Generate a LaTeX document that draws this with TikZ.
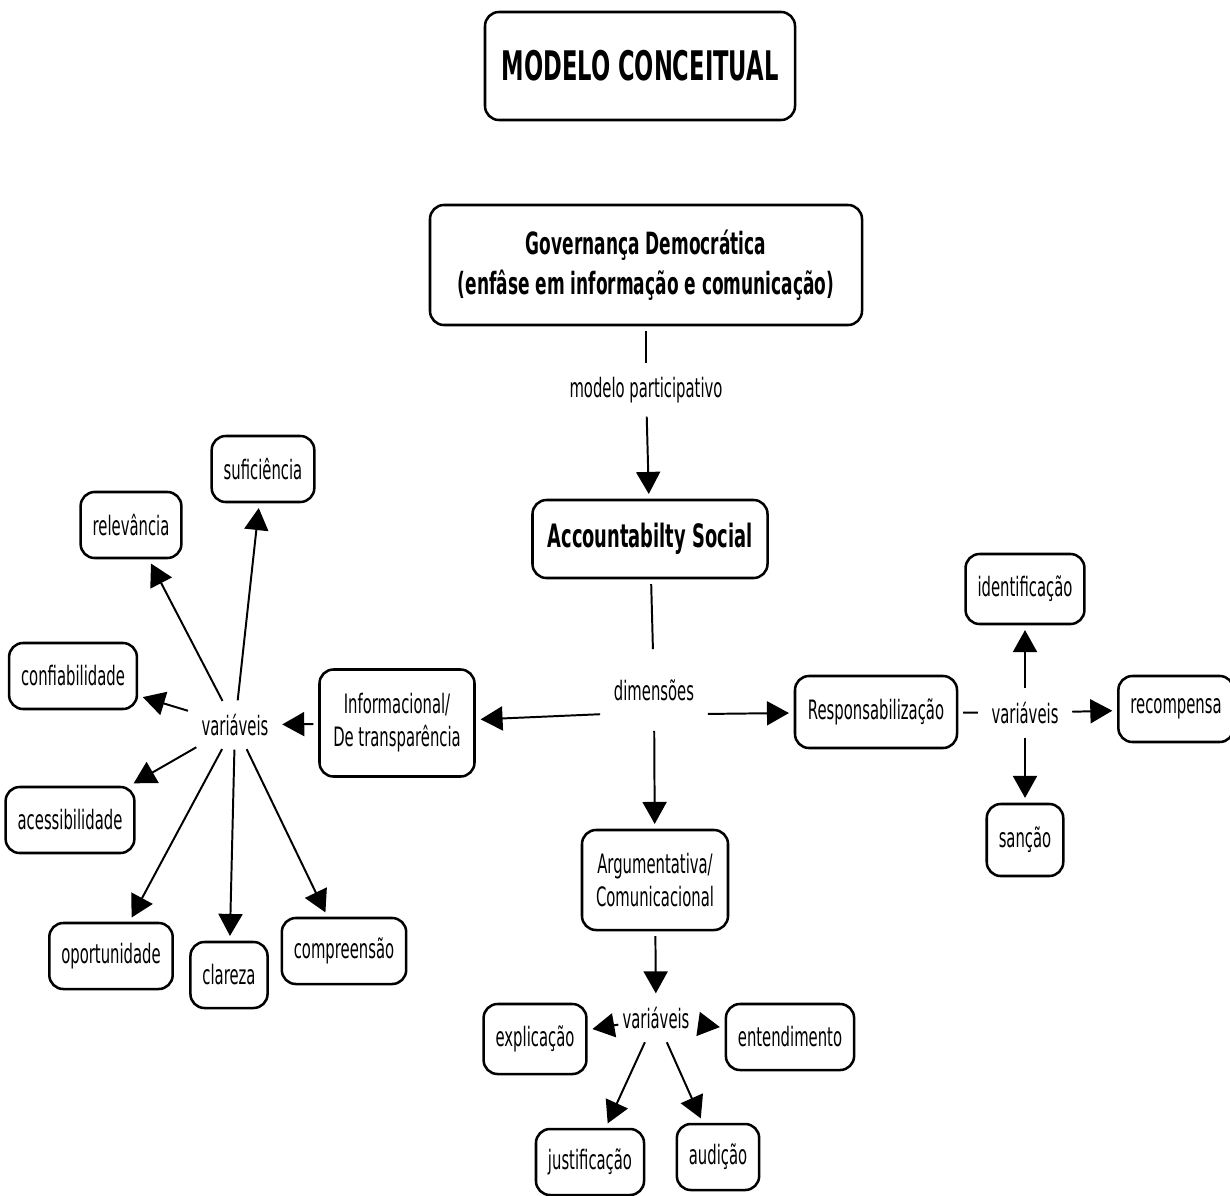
\documentclass[tikz,border=0pt]{standalone}
\usepackage{fontspec}
\setmainfont{DejaVu Sans}[FakeStretch=0.555]
\usepackage{tikz}
\usetikzlibrary{arrows.meta,positioning}

\newcommand{\normaltam}{\fontsize{19}{23.5}\selectfont}
\newcommand{\govtam}{\bfseries\fontsize{21.8}{28.5}\selectfont}
\newcommand{\acctam}{\bfseries\fontsize{22.9}{26}\selectfont}
\newcommand{\titulotam}{\bfseries\fontsize{29}{32}\selectfont}

\tikzset{
  conceito/.style={draw, rounded corners=3.5mm, line width=1.8pt, align=center,
    font=\normaltam, inner xsep=3mm, minimum height=16.5mm},
  rotulo/.style={font=\normaltam, inner sep=2mm},
}

\begin{document}
\begin{tikzpicture}[x=0.25mm, y=-0.25mm, ->, >={Triangle[length=5.5mm,width=6mm]},
    line width=1.4pt, shorten >=1.2mm, shorten <=1.2mm]

  \useasboundingbox (0,0) rectangle (1230,1195);

  % topo
  \node[conceito, font=\titulotam, minimum width=77.5mm, minimum height=27mm] (titulo) at (640,66) {MODELO CONCEITUAL};
  \node[conceito, font=\govtam, minimum width=108mm, minimum height=30mm] (gov) at (646,265)
    {Governança Democrática\\(enfâse em informação e comunicação)};
  \node[rotulo, minimum height=10mm] (part) at (646,390) {modelo participativo};
  \node[conceito, font=\acctam, minimum width=58.75mm, minimum height=19.5mm] (acc) at (650,539) {Accountabilty Social};
  \node[rotulo, minimum width=21mm, minimum height=17.5mm] (dim) at (654,690) {dimensões};

  % dimensoes
  \node[conceito, minimum width=38.75mm, minimum height=26.75mm] (info) at (397,723) {Informacional/\\De transparência};
  \node[conceito, minimum width=40.5mm, minimum height=18mm] (resp) at (876,712) {Responsabilização};
  \node[conceito, minimum width=36.5mm, minimum height=25mm] (arg) at (655,880) {Argumentativa/\\Comunicacional};

  % variaveis informacional
  \node[rotulo] (varI) at (235,725) {variáveis};
  \node[conceito] (suf) at (263,469) {suficiência};
  \node[conceito] (rel) at (131,525) {relevância};
  \node[conceito] (conf) at (73,676) {confiabilidade};
  \node[conceito] (aces) at (70,820) {acessibilidade};
  \node[conceito] (oport) at (111,956) {oportunidade};
  \node[conceito] (clar) at (229,975) {clareza};
  \node[conceito] (comp) at (344,951) {compreensão};

  % variaveis responsabilizacao
  \node[rotulo] (varR) at (1025,713) {variáveis};
  \node[conceito, minimum height=17.5mm] (ident) at (1025,589) {identificação};
  \node[conceito] (recomp) at (1176,709) {recompensa};
  \node[conceito, minimum height=18mm] (sanc) at (1025,840) {sanção};

  % variaveis argumentativa
  \node[rotulo] (varA) at (656,1018) {variáveis};
  \node[conceito, minimum height=17.5mm] (expl) at (535,1039) {explicação};
  \node[conceito] (entend) at (790,1037) {entendimento};
  \node[conceito] (just) at (590,1162) {justificação};
  \node[conceito] (aud) at (718,1157) {audição};

  \path
    (gov) edge[-] (part)
    (part) edge (acc)
    (acc) edge[-] (dim)
    ([yshift=-6mm]dim.west) edge (info)
    ([yshift=-6mm]dim.east) edge (resp)
    (dim) edge (arg);

  \path
    (info) edge (varI)
    (varI) edge (suf) edge (rel) edge (conf) edge (aces)
           edge (oport) edge (clar) edge (comp);

  \path
    (resp) edge[-] (varR)
    (varR) edge (ident) edge (recomp) edge (sanc);

  \path
    (arg) edge (varA)
    (varA) edge (expl) edge (entend) edge (just) edge (aud);

\end{tikzpicture}
\end{document}
